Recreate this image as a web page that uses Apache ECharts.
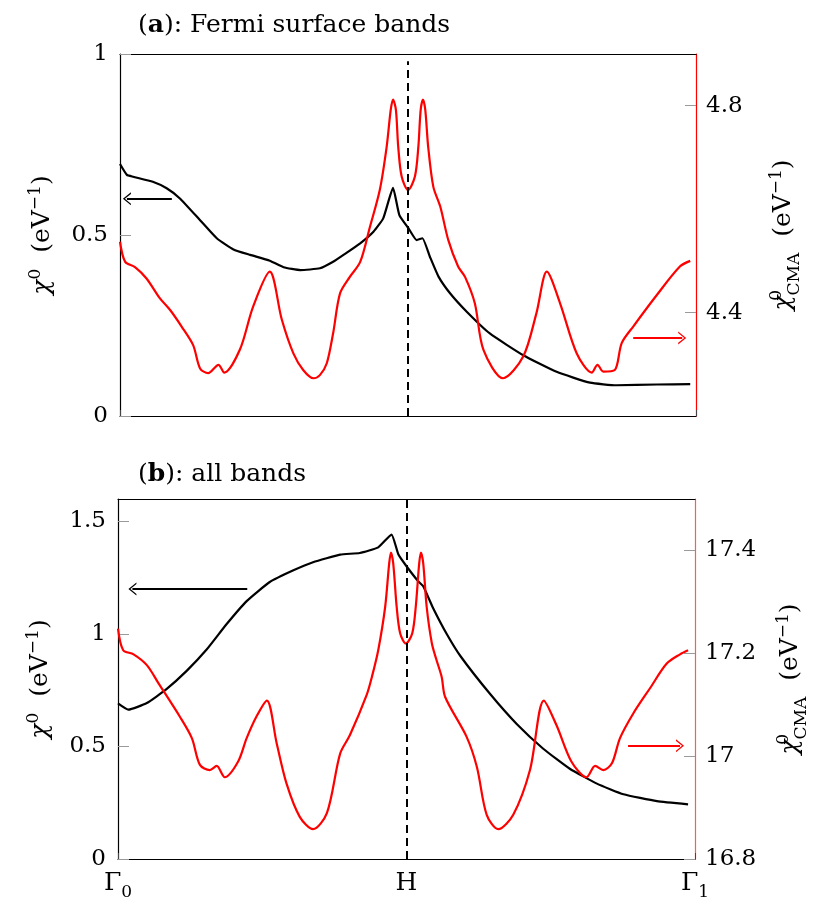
<!DOCTYPE html>
<html><head><meta charset="utf-8">
<script src="https://cdn.jsdelivr.net/npm/echarts@6/dist/echarts.min.js"></script>
<style>html,body{margin:0;padding:0;background:#fff}#c{width:830px;height:920px}</style>
</head><body><div id="c"></div>
<script>
// ---- data: path coordinate k (0 = Γ0, 50 = H, 100 = Γ1) ----
const xTicks = [0, 50, 100];
const xTickLabels = ['Γ0', 'H', 'Γ1'];

// panel (a): Fermi surface bands
const aChiK = [0,1.2,2.3,5.7,8.1,10.4,13.9,16.8,19.7,22.6,26.0,28.4,31.3,34.7,37.0,38.8,41.7,44.0,45.7,47.4,48.5,50.1,51.5,52.5,53.8,55.3,57.3,60.2,64.2,70.0,75.8,81.6,86.2,93.2,99.0];
const aChiV = [0.696,0.666,0.661,0.647,0.629,0.601,0.541,0.491,0.460,0.445,0.429,0.411,0.403,0.408,0.426,0.445,0.477,0.509,0.546,0.630,0.555,0.518,0.486,0.491,0.440,0.385,0.339,0.288,0.228,0.168,0.122,0.092,0.085,0.087,0.088];
const aCmaK = [0,0.9,2.6,4.6,6.9,8.7,10.7,12.7,13.9,15.3,17.1,18.1,20.8,23.1,26.0,28.1,30.1,31.8,33.6,34.7,35.9,37.0,38.2,39.9,41.7,43.4,45.1,46.3,47.0,47.4,47.9,48.3,48.9,50.0,51.2,51.8,52.2,52.6,53.0,53.5,54.4,55.6,57.0,58.7,59.9,61.6,63.1,66.5,70.0,72.3,74.1,76.4,79.3,81.9,82.9,83.9,85.9,87.1,89.1,93.2,97.2,99.0];
const aCmaV = [4.537,4.498,4.488,4.466,4.428,4.405,4.373,4.337,4.292,4.283,4.299,4.284,4.328,4.411,4.479,4.386,4.321,4.289,4.273,4.279,4.302,4.360,4.437,4.469,4.498,4.566,4.637,4.721,4.792,4.812,4.792,4.721,4.663,4.637,4.663,4.721,4.792,4.812,4.792,4.721,4.643,4.605,4.540,4.489,4.469,4.418,4.328,4.273,4.315,4.399,4.479,4.418,4.321,4.284,4.299,4.286,4.289,4.341,4.373,4.434,4.489,4.500];
const aLeftTicks = [0, 0.5, 1];
const aRightTicks = [4.4, 4.8];

// panel (b): all bands
const bChiK = [0,1.8,5.0,8.4,11.9,15.4,18.8,22.3,26.3,30.4,33.8,38.5,41.9,45.1,47.4,48.6,50.0,52.0,52.9,54.6,57.0,59.4,64.5,69.1,73.7,78.3,83.0,87.6,93.4,98.8];
const bChiV = [0.692,0.664,0.693,0.755,0.836,0.932,1.043,1.146,1.231,1.283,1.319,1.353,1.360,1.385,1.442,1.353,1.301,1.235,1.212,1.116,0.999,0.900,0.733,0.600,0.490,0.401,0.335,0.288,0.257,0.243];
const bCmaK = [0,0.9,2.7,5.0,7.0,10.7,12.8,14.2,15.9,17.1,18.5,20.8,22.3,24.0,25.8,27.5,29.2,31.5,33.8,36.2,38.5,40.2,43.1,44.0,45.1,46.3,47.0,47.3,47.7,48.3,48.9,49.9,51.0,51.6,52.2,52.5,52.9,53.5,54.4,55.2,56.1,56.7,60.4,62.2,63.9,65.9,68.5,71.4,73.8,76.0,78.6,81.2,82.7,84.1,85.6,87.0,89.3,92.2,95.1,97.4,98.8];
const bCmaV = [17.248,17.206,17.198,17.177,17.142,17.077,17.035,16.983,16.973,16.981,16.959,16.989,17.035,17.077,17.108,17.025,16.947,16.882,16.858,16.889,17.005,17.041,17.119,17.154,17.206,17.290,17.375,17.396,17.375,17.290,17.239,17.219,17.239,17.290,17.375,17.396,17.375,17.290,17.219,17.187,17.154,17.115,17.038,16.979,16.886,16.858,16.886,16.973,17.108,17.060,16.989,16.959,16.981,16.973,16.986,17.035,17.083,17.132,17.180,17.198,17.206];
const bLeftTicks = [0, 0.5, 1, 1.5];
const bRightTicks = [16.8, 17, 17.2, 17.4];

// annotation arrows [kStart, kEnd, value]
const aChiArrow = [1.2, 9.0, 0.6];
const aCmaArrow = [89.1, 97.6, 4.351];
const bChiArrow = [2.5, 22.4, 1.2];
const bCmaArrow = [88.4, 97.4, 17.02];

// ---- styling ----
const F = 'DejaVu Serif';
const FS = 23;
const rich = {
  n:   {fontFamily: F, fontSize: 25, lineHeight: 30, color: '#000', fontWeight: 'normal'},
  b:   {fontFamily: F, fontSize: 25, lineHeight: 30, color: '#000', fontWeight: 'bold'},
  g:   {fontFamily: F, fontSize: 25, lineHeight: 30, color: '#000', fontStyle: 'italic', fontWeight: 'normal'},
  G:   {fontFamily: F, fontSize: 25, lineHeight: 30, color: '#000', fontWeight: 'normal'},
  sup: {fontFamily: F, fontSize: 17, lineHeight: 17, color: '#000', fontWeight: 'normal', padding: [0, 0, 16, 0], verticalAlign: 'top'},
  sup0:{fontFamily: F, fontSize: 17, lineHeight: 17, color: '#000', fontWeight: 'normal', padding: [0, 0, 18, 0], verticalAlign: 'top', width: 0.01},
  sub: {fontFamily: F, fontSize: 17, lineHeight: 17, color: '#000', fontWeight: 'normal', padding: [18, 0, 0, 0], verticalAlign: 'top'},
  xs:  {fontFamily: F, fontSize: 17, lineHeight: 17, color: '#000', fontWeight: 'normal', padding: [16, 0, 0, 0], verticalAlign: 'top'}
};
const ARROW = 'path://M0,8 L6.5,0 L13,8 L11.4,8 L6.5,2 L1.6,8 Z';
const zip = (k, v) => k.map((x, i) => [x, v[i]]);

function arrowLine(a, color, atStart) {
  const ls = {color: color, width: 2, type: 'solid'};
  return [
    {coord: [a[0], a[2]], symbol: atStart ? ARROW : 'none', symbolSize: [13, 8], lineStyle: ls},
    {coord: [a[1], a[2]], symbol: atStart ? 'none' : ARROW, symbolSize: [13, 8], lineStyle: ls}
  ];
}
function hLine(top) {
  const ls = {color: '#000', width: 2, type: [8, 5]};
  return [{coord: [50, 0], symbol: 'none', lineStyle: ls}, {coord: [50, top], symbol: 'none', lineStyle: ls}];
}
function markLine(items) {
  return {silent: true, symbol: ['none', 'none'], label: {show: false}, emphasis: {disabled: true}, animation: false, data: items};
}

function xAxis(gi, showLabels) {
  return {
    type: 'value', gridIndex: gi, position: 'bottom', min: 0, max: 100,
    splitLine: {show: false},
    axisLine: {show: true, onZero: false, lineStyle: {color: '#000', width: 1.2}},
    axisTick: {show: true, inside: true, length: 6, customValues: xTicks, lineStyle: {color: '#444'}},
    axisLabel: {
      show: showLabels, customValues: xTicks, margin: 9, rich: rich,
      formatter: function (v) {
        const t = xTickLabels[xTicks.indexOf(v)];
        return t.length > 1 ? '{G|' + t[0] + '}{xs|' + t.slice(1) + '}' : '{G|' + t + '}';
      }
    }
  };
}
// plain top frame line of each panel
function topFrame(gi) {
  return {
    type: 'value', gridIndex: gi, position: 'top', min: 0, max: 100,
    splitLine: {show: false}, axisTick: {show: false}, axisLabel: {show: false},
    axisLine: {show: true, onZero: false, lineStyle: {color: '#000', width: 1.2}}
  };
}
function yAxis(gi, pos, min, max, ticks, lineColor, name, gap) {
  return {
    type: 'value', gridIndex: gi, position: pos, min: min, max: max,
    splitLine: {show: false},
    axisLine: {show: true, onZero: false, lineStyle: {color: lineColor, width: 1.2}},
    axisTick: {show: true, inside: true, length: 11, customValues: ticks, lineStyle: {color: '#9a9a9a'}},
    axisLabel: {customValues: ticks, fontFamily: F, fontSize: FS, color: '#000', margin: pos === 'left' ? 12 : 10},
    name: name, nameLocation: 'middle', nameRotate: 90, nameGap: gap,
    nameTextStyle: {rich: rich}
  };
}
const leftName = '{g|χ}{sup|0}{n|  (eV}{sup|−1}{n|)}';
const rightName = '{g|χ}{sup0|0}{sub|CMA}{n|  (eV}{sup|−1}{n|)}';

const option = {
  animation: false,
  backgroundColor: '#fff',
  title: [
    {text: '{n|(}{b|a}{n|): Fermi surface bands}', left: 138, top: 10, padding: 0, textStyle: {fontWeight: 'normal', rich: rich}},
    {text: '{n|(}{b|b}{n|): all bands}', left: 138, top: 459, padding: 0, textStyle: {fontWeight: 'normal', rich: rich}}
  ],
  grid: [
    {left: 120, width: 576, top: 54, height: 362, show: false},
    {left: 118, width: 577, top: 499, height: 360, show: false}
  ],
  xAxis: [xAxis(0, false), xAxis(1, true), topFrame(0), topFrame(1)],
  yAxis: [
    yAxis(0, 'left', 0, 1, aLeftTicks, '#000', leftName, 62),
    yAxis(0, 'right', 4.2, 4.9, aRightTicks, '#ff0000', rightName, 72),
    yAxis(1, 'left', 0, 1.6, bLeftTicks, '#000', leftName, 62),
    yAxis(1, 'right', 16.8, 17.5, bRightTicks, '#ff5a5a', rightName, 80)
  ],
  series: [
    {type: 'line', xAxisIndex: 0, yAxisIndex: 0, data: zip(aChiK, aChiV), showSymbol: false, smooth: 0.15,
     lineStyle: {color: '#000', width: 2.2}, itemStyle: {color: '#000'},
     markLine: markLine([hLine(0.98), arrowLine(aChiArrow, '#000', true)])},
    {type: 'line', xAxisIndex: 0, yAxisIndex: 1, data: zip(aCmaK, aCmaV), showSymbol: false, smooth: 0.3,
     lineStyle: {color: '#ff0000', width: 2.2}, itemStyle: {color: '#ff0000'},
     markLine: markLine([arrowLine(aCmaArrow, '#ff0000', false)])},
    {type: 'line', xAxisIndex: 1, yAxisIndex: 2, data: zip(bChiK, bChiV), showSymbol: false, smooth: 0.15,
     lineStyle: {color: '#000', width: 2.2}, itemStyle: {color: '#000'},
     markLine: markLine([hLine(1.6), arrowLine(bChiArrow, '#000', true)])},
    {type: 'line', xAxisIndex: 1, yAxisIndex: 3, data: zip(bCmaK, bCmaV), showSymbol: false, smooth: 0.3,
     lineStyle: {color: '#ff0000', width: 2.2}, itemStyle: {color: '#ff0000'},
     markLine: markLine([arrowLine(bCmaArrow, '#ff0000', false)])}
  ]
};
const chart = echarts.init(document.getElementById('c'), null, {renderer: 'canvas'});
chart.setOption(option);
</script></body></html>
